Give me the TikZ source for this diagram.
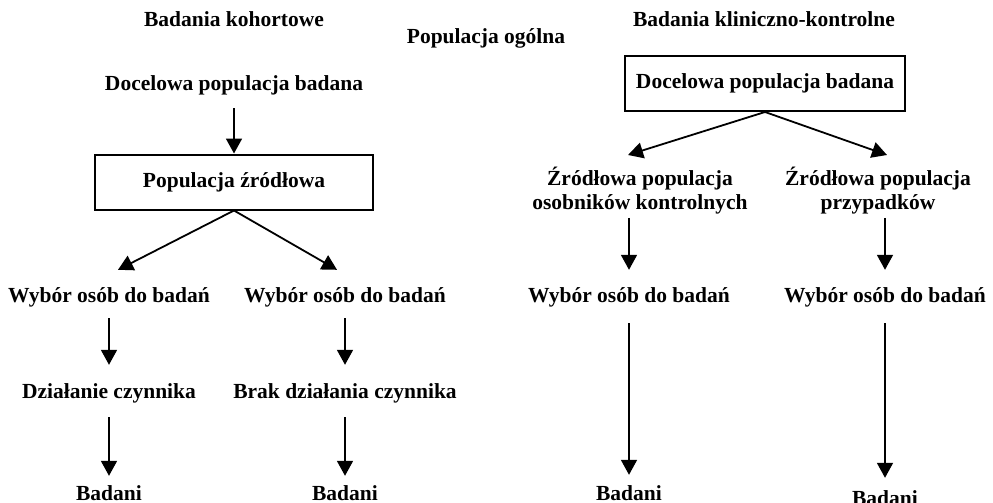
\documentclass[tikz,border=0pt]{standalone}
\usepackage{fontspec}
\setmainfont{Liberation Serif}
\usetikzlibrary{arrows.meta, positioning, calc}

\begin{document}
\begin{tikzpicture}[x=1pt, y=-1pt,
  lbl/.style={font=\fontsize{21.5}{24}\selectfont\bfseries, inner sep=0pt, text height=15pt, text depth=5pt},
  lbltwo/.style={font=\fontsize{21.5}{23.5}\selectfont\bfseries, inner sep=0pt, align=center},
  box/.style={lbl, draw, line width=2pt, minimum width=278pt, minimum height=55pt},
  arr/.style={-{Triangle[length=15pt,width=16pt]}, line width=1.8pt}]
  \useasboundingbox (0,0) rectangle (993,503);

  % Headings
  \node[lbl, anchor=base] (kohort) at (234,27) {Badania kohortowe};
  \node[lbl, anchor=base] (ogolna) at (486,44) {Populacja ogólna};
  \node[lbl, anchor=base] (klin) at (764,27) {Badania kliniczno-kontrolne};

  % Cohort studies
  \node[lbl, anchor=base] (docL) at (234,90) {Docelowa populacja badana};
  \node[box] (zrodL) at (234,182) {Populacja źródłowa};
  \node[lbl, anchor=base] (wybA) at (109,302) {Wybór osób do badań};
  \node[lbl, anchor=base] (wybB) at (345,302) {Wybór osób do badań};
  \node[lbl, anchor=base] (dzial) at (109,398) {Działanie czynnika};
  \node[lbl, anchor=base] (brak) at (345,398) {Brak działania czynnika};
  \node[lbl, anchor=base] (badA) at (109,500) {Badani};
  \node[lbl, anchor=base] (badB) at (345,500) {Badani};

  \draw[arr, shorten <=13pt] (docL.south) -- (zrodL.north);
  \draw[arr] (zrodL.south) -- ([xshift=9pt, yshift=17pt]wybA.north);
  \draw[arr] (zrodL.south) -- ([xshift=-8pt, yshift=17pt]wybB.north);
  \draw[arr, shorten <=11pt, shorten >=18pt] (wybA.south) -- (dzial.north);
  \draw[arr, shorten <=11pt, shorten >=18pt] (wybB.south) -- (brak.north);
  \draw[arr, shorten <=14pt, shorten >=9pt] (dzial.south) -- (badA.north);
  \draw[arr, shorten <=14pt, shorten >=9pt] (brak.south) -- (badB.north);

  % Case-control studies
  \node[box, minimum width=280pt] (docR) at (765,83.5) {Docelowa populacja badana};
  \node[lbltwo, anchor=north] (zrK) at (640,167) {Źródłowa populacja\\osobników kontrolnych};
  \node[lbltwo, anchor=north] (zrP) at (878,167) {Źródłowa populacja\\przypadków};
  \node[lbl, anchor=base] (wybK) at (629,302) {Wybór osób do badań};
  \node[lbl, anchor=base] (wybP) at (885,302) {Wybór osób do badań};
  \node[lbl, anchor=base] (badK) at (629,500) {Badani};
  \node[lbl, anchor=base] (badP) at (885,505) {Badani};

  \draw[arr] (docR.south) -- ([xshift=-12pt, yshift=12pt]zrK.north);
  \draw[arr] (docR.south) -- ([xshift=9pt, yshift=12pt]zrP.north);
  \draw[arr, shorten <=4pt, shorten >=17pt] (zrK.south -| wybK) -- (wybK.north);
  \draw[arr, shorten <=4pt, shorten >=17pt] (zrP.south -| wybP) -- (wybP.north);
  \draw[arr, shorten <=16pt, shorten >=10pt] (wybK.south) -- (badK.north);
  \draw[arr, shorten <=16pt, shorten >=12pt] (wybP.south) -- (badP.north);
\end{tikzpicture}
\end{document}
